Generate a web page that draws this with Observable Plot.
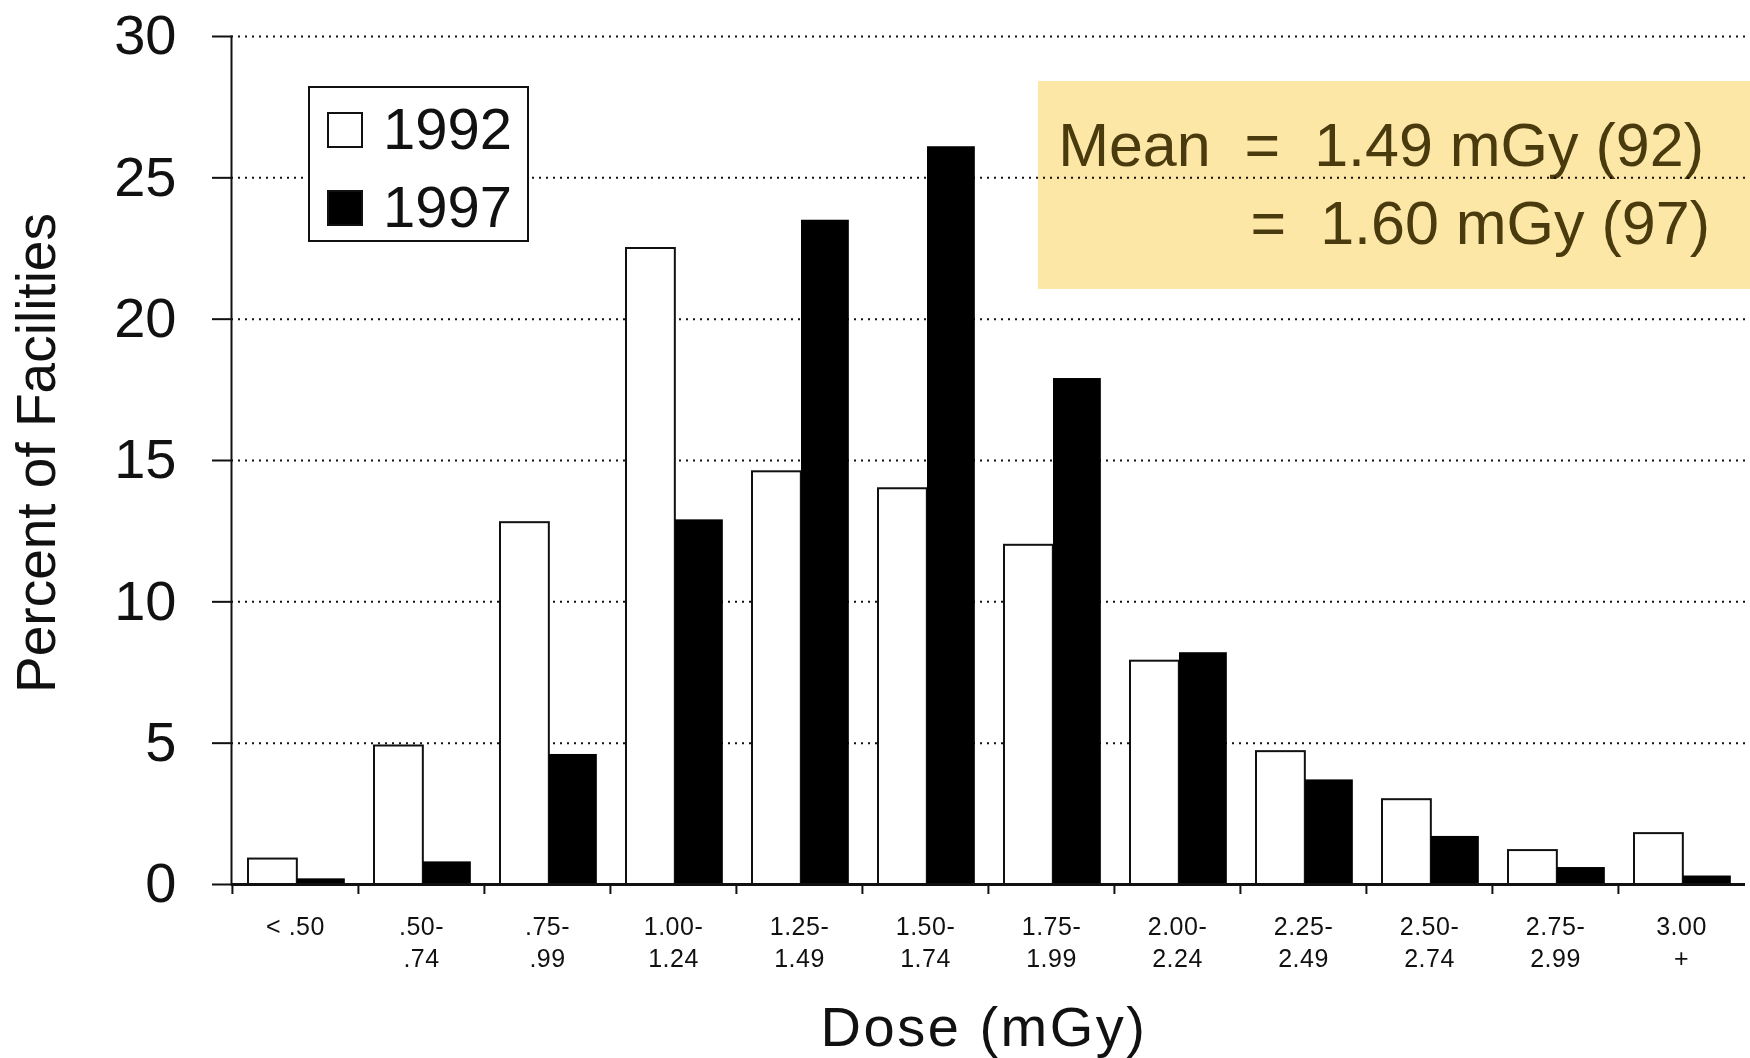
<!DOCTYPE html>
<html>
<head>
<meta charset="utf-8">
<script src="https://cdn.jsdelivr.net/npm/d3@7"></script>
<script src="https://cdn.jsdelivr.net/npm/@observablehq/plot@0.6"></script>
<style>
  html, body { margin: 0; padding: 0; background: #fff; }
  #wrap { position: relative; width: 1750px; height: 1058px; overflow: hidden;
          font-family: "Liberation Sans", Arial, Helvetica, sans-serif; color: #111; }
  #chart { position: absolute; left: 0; top: 0; }
  .ylab { position: absolute; left: 36px; top: 453px; transform: translate(-50%, -50%) rotate(-90deg);
          white-space: nowrap; font-size: 55px; line-height: 1; }
  .xlab { position: absolute; left: 984px; top: 999px; transform: translateX(-50%);
          white-space: nowrap; font-size: 56px; line-height: 1; letter-spacing: 2.5px; }
  .legend { position: absolute; left: 308px; top: 86px; width: 221px; height: 156px; box-sizing: border-box;
            border: 2px solid #111; background: #fff; }
  .legend .sw { position: absolute; left: 17px; width: 36px; height: 36px; box-sizing: border-box; border: 2px solid #111; }
  .legend .lt { position: absolute; left: 73px; font-size: 58px; line-height: 1; white-space: nowrap; }
  .note { position: absolute; left: 1038px; top: 81px; width: 712px; height: 208px; background: #fde7a6;
          mix-blend-mode: multiply; color: #4a3b0e; }
  .note .ln { position: absolute; font-size: 61px; line-height: 1; white-space: pre; }
  svg g[aria-label="x-axis tick label"] text { letter-spacing: 0.5px; }
</style>
</head>
<body>
<div id="wrap"></div>
<script>
// ---- data ----
const categories = ["<.50", ".50-.74", ".75-.99", "1.00-1.24", "1.25-1.49", "1.50-1.74",
                    "1.75-1.99", "2.00-2.24", "2.25-2.49", "2.50-2.74", "2.75-2.99", "3.00+"];
const labelTop    = ["< .50", ".50-", ".75-", "1.00-", "1.25-", "1.50-", "1.75-", "2.00-", "2.25-", "2.50-", "2.75-", "3.00"];
const labelBottom = ["", ".74", ".99", "1.24", "1.49", "1.74", "1.99", "2.24", "2.49", "2.74", "2.99", "+"];
const values1992 = [0.9, 4.9, 12.8, 22.5, 14.6, 14.0, 12.0, 7.9, 4.7, 3.0, 1.2, 1.8];
const values1997 = [0.2, 0.8, 4.6, 12.9, 23.5, 26.1, 17.9, 8.2, 3.7, 1.7, 0.6, 0.3];
const years = ["1992", "1997"];
const yTicks = [0, 5, 10, 15, 20, 25, 30];
const yLabel = "Percent of Facilities";
const xLabel = "Dose (mGy)";
const meanLines = ["Mean  =  1.49 mGy (92)", "=  1.60 mGy (97)"];

// ---- layout ----
const W = 1750, H = 1058;
const mLeft = 231, mRight = 5, mTop = 36, mBottom = 174;
const step = (W - mLeft - mRight) / categories.length;
const whiteL = 16, split = 65, blackR = 113; // bar edges inside each band (px)

const rows = categories.map((c, i) => ({cat: c, v92: values1992[i], v97: values1997[i]}));
const fmt = new Map(categories.map((c, i) => [c, labelTop[i] + "\n" + labelBottom[i]]));

const chart = Plot.plot({
  width: W, height: H,
  marginLeft: mLeft, marginRight: mRight, marginTop: mTop, marginBottom: mBottom,
  style: {fontFamily: "Liberation Sans, Arial, sans-serif", color: "#111", background: "transparent"},
  x: {type: "band", domain: categories, padding: 0},
  y: {domain: [0, 30]},
  marks: [
    Plot.gridY(yTicks.filter(d => d > 0), {stroke: "#111", strokeOpacity: 1, strokeWidth: 2, strokeDasharray: "2,5"}),
    Plot.barY(rows, {x: "cat", y: "v92", fill: "white", stroke: "#111", strokeWidth: 2,
                     insetLeft: whiteL, insetRight: step - split}),
    Plot.barY(rows, {x: "cat", y: "v97", fill: "#000",
                     insetLeft: split, insetRight: step - blackR}),
    Plot.ruleY([0], {strokeWidth: 3, stroke: "#111"}),
    Plot.frame({anchor: "left", strokeWidth: 2, stroke: "#111"}),
    Plot.axisY({ticks: yTicks, tickSize: 19, tickPadding: 36, fontSize: 56, strokeWidth: 2, label: null}),
    Plot.axisX({fill: "none", tickSize: 10, strokeWidth: 2, dx: -step / 2, label: null}),
    Plot.axisX({tickSize: 0, tickPadding: 28, fontSize: 25, lineHeight: 1.28,
                fontFamily: "Liberation Sans Narrow, Liberation Sans, Arial, sans-serif",
                tickFormat: d => fmt.get(d), label: null})
  ]
});
chart.id = "chart";

const wrap = document.getElementById("wrap");
wrap.appendChild(chart);

// axis titles
const yl = document.createElement("div"); yl.className = "ylab"; yl.textContent = yLabel; wrap.appendChild(yl);
const xl = document.createElement("div"); xl.className = "xlab"; xl.textContent = xLabel; wrap.appendChild(xl);

// legend
const lg = document.createElement("div"); lg.className = "legend";
const swFill = ["#fff", "#000"];
years.forEach((yr, i) => {
  const sw = document.createElement("div"); sw.className = "sw";
  sw.style.top = (24 + i * 78) + "px"; sw.style.background = swFill[i];
  const t = document.createElement("div"); t.className = "lt"; t.textContent = yr;
  t.style.top = (12 + i * 78) + "px";
  lg.appendChild(sw); lg.appendChild(t);
});
wrap.appendChild(lg);

// mean annotation
const nt = document.createElement("div"); nt.className = "note";
const l1 = document.createElement("div"); l1.className = "ln"; l1.textContent = meanLines[0];
l1.style.right = "46px"; l1.style.top = "34px";
const l2 = document.createElement("div"); l2.className = "ln"; l2.textContent = meanLines[1];
l2.style.right = "40px"; l2.style.top = "112px";
nt.appendChild(l1); nt.appendChild(l2);
wrap.appendChild(nt);
</script>
</body>
</html>
